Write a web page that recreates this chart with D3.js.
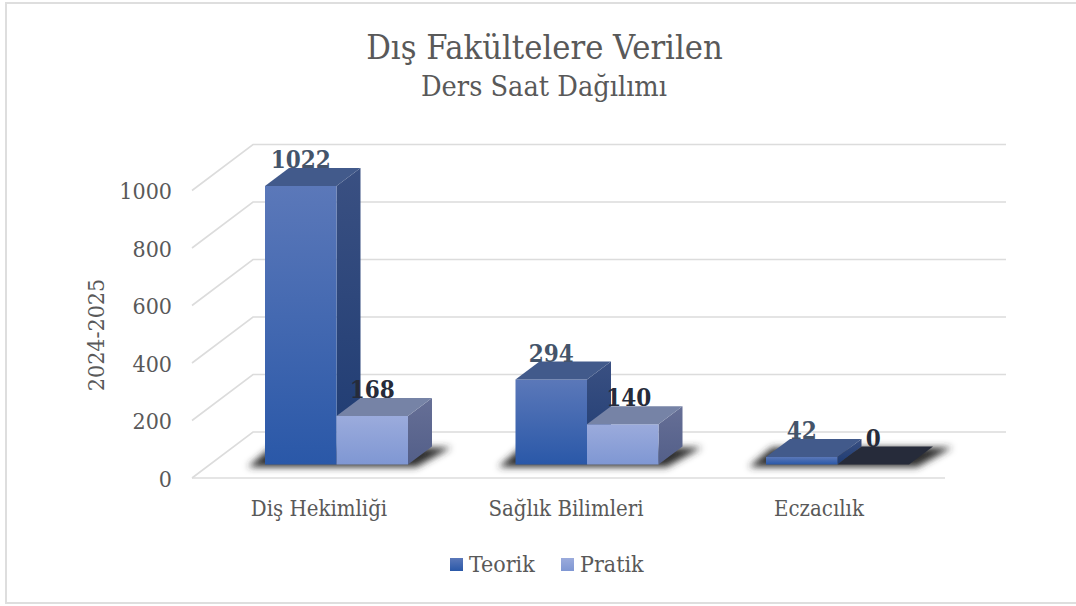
<!DOCTYPE html>
<html><head><meta charset="utf-8">
<script src="https://cdnjs.cloudflare.com/ajax/libs/d3/7.8.5/d3.min.js"></script>
<style>html,body{margin:0;padding:0;background:#fff}svg{display:block}text{font-family:"DejaVu Serif Condensed","DejaVu Serif",serif}</style>
</head><body><svg id="c" width="1076" height="606"></svg>
<script>
const categories = ["Diş Hekimliği", "Sağlık Bilimleri", "Eczacılık"];
const seriesNames = ["Teorik", "Pratik"];
const teorik = [1022, 294, 42];
const pratik = [168, 140, 0];
const yTicks = [0, 200, 400, 600, 800, 1000];
const titleLine1 = "Dış Fakültelere Verilen";
const titleLine2 = "Ders Saat Dağılımı";
const yTitle = "2024-2025";

const svg = d3.select("#c");
const defs = svg.append("defs");
const grad = (id, a, b) => {
  const g = defs.append("linearGradient").attr("id", id).attr("x1", 0).attr("y1", 0).attr("x2", 0).attr("y2", 1);
  g.append("stop").attr("offset", 0).attr("stop-color", a);
  g.append("stop").attr("offset", 1).attr("stop-color", b);
};
grad("tf", "#5b78b9", "#2a58a8"); grad("ts", "#3a5082", "#1e3b72");
grad("pf", "#9babdc", "#7f97d3"); grad("ps", "#666f96", "#535f89");
defs.append("filter").attr("id", "blur").attr("x", "-20%").attr("y", "-60%").attr("width", "140%").attr("height", "220%")
  .append("feGaussianBlur").attr("stdDeviation", 3.6);

svg.append("path").attr("d", "M1076,3H6V603H1076").attr("fill", "none")
  .attr("stroke", "#dedede").attr("stroke-width", 2);

const depth = {x: 61, y: -46};
const yAxis = d3.scaleLinear().domain([0, 1000]).range([478, 190.5]);
const xFloor = [192, 945];
const x0 = d3.scaleBand().domain(categories).range([265, 1016.5]);
const x1 = d3.scaleBand().domain(seriesNames).range([0, 143]);
const xLabel = d3.scaleOrdinal().domain(categories).range([319, 566, 819]);
// drawn heights of the reference's 3D bars are not quite linear in the value
const h = d3.scaleLinear().domain([0, 42, 140, 294, 1022]).range([0, 7.6, 40.3, 85, 278.5]);
const baseY = 464.5, dx = 24, dy = -18;
const catLeft = c => x0(c);

const grid = svg.append("g").attr("fill", "none").attr("stroke", "#dcdcdc").attr("stroke-width", 1.6);
yTicks.forEach(t => {
  const y = yAxis(t);
  grid.append("path").attr("d", d3.line()([[xFloor[0], y], [xFloor[0] + depth.x, y + depth.y], [xFloor[1] + depth.x, y + depth.y]]));
});
grid.append("line").attr("x1", xFloor[0]).attr("x2", xFloor[1]).attr("y1", yAxis(0)).attr("y2", yAxis(0));

categories.forEach(c => {
  const l = catLeft(c), r = l + 143;
  svg.append("polygon").attr("filter", "url(#blur)").attr("fill", "#2e2e2e")
    .attr("points", [[l - 17, baseY + 2.5], [r + 8, baseY + 2.5], [r + dx + 19, baseY + dy + 1], [l + 6, baseY + dy + 1]].join(" "));
});

const poly = (pts, fill) => svg.append("polygon").attr("points", pts.join(" ")).attr("fill", fill);
const rows = categories.flatMap((c, i) => [
  {c, s: seriesNames[0], v: teorik[i], key: "t"},
  {c, s: seriesNames[1], v: pratik[i], key: "p"}
]);
rows.forEach(d => {
  const l = catLeft(d.c) + x1(d.s), w = x1.bandwidth(), r = l + w, top = baseY - h(d.v);
  if (d.v === 0) {
    poly([[l, baseY], [r, baseY], [r + dx, baseY + dy], [l + dx, baseY + dy]], "#262b3a");
    return;
  }
  poly([[r, baseY], [r + dx, baseY + dy], [r + dx, top + dy], [r, top]], `url(#${d.key}s)`);
  poly([[l, baseY], [r, baseY], [r, top], [l, top]], `url(#${d.key}f)`);
  poly([[l, top], [r, top], [r + dx, top + dy], [l + dx, top + dy]], d.key === "t" ? "#425a8b" : "#7683a6");
});
rows.forEach(d => {
  const l = catLeft(d.c) + x1(d.s), w = x1.bandwidth(), top = baseY - h(d.v);
  svg.append("text").attr("x", l + w / 2 + (d.v === 140 ? 6 : 0)).attr("y", top - 18)
    .attr("text-anchor", "middle").attr("font-size", 24).attr("font-weight", "bold")
    .attr("fill", d.key === "t" ? "#44546a" : "#262b3a").text(d.v);
});

const txt = (x, y, s, size, anchor = "middle", fill = "#595959") =>
  svg.append("text").attr("x", x).attr("y", y).attr("font-size", size).attr("text-anchor", anchor)
    .attr("fill", fill).text(s);

txt(544.5, 58.5, titleLine1, 34.2);
txt(544, 96, titleLine2, 28.6);
yTicks.forEach(t => txt(172, yAxis(t) + 8.5, t, 23, "end"));
categories.forEach(c => txt(xLabel(c), 516, c, 22));
svg.append("text").attr("transform", "translate(104,335) rotate(-90)").attr("text-anchor", "middle")
  .attr("font-size", 23).attr("fill", "#595959").text(yTitle);

const lg = [[450, 469], [561, 580]];
seriesNames.forEach((s, i) => {
  svg.append("rect").attr("x", lg[i][0]).attr("y", 558).attr("width", 13).attr("height", 13)
    .attr("fill", `url(#${i ? "pf" : "tf"})`);
  txt(lg[i][1], 572, s, 23, "start");
});
</script></body></html>
